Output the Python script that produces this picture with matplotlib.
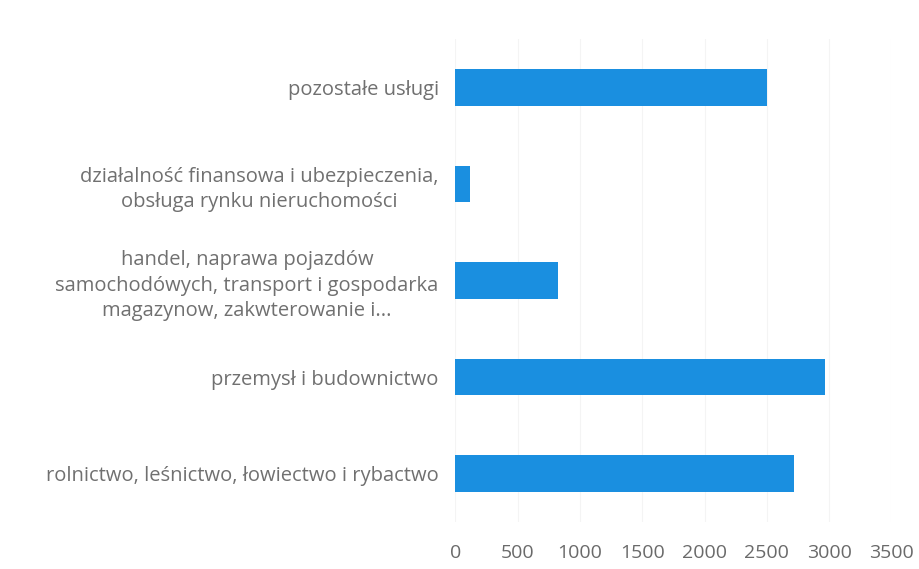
from matplotlib import pyplot as plt

# categories from bottom to top
categories = [
    "rolnictwo, leśnictwo, łowiectwo i rybactwo",
    "przemysł i budownictwo",
    "handel, naprawa pojazdów\nsamochodówych, transport i gospodarka\nmagazynow, zakwterowanie i...",
    "działalność finansowa i ubezpieczenia,\nobsługa rynku nieruchomości",
    "pozostałe usługi",
]
values = [2720, 2970, 820, 120, 2500]
xticks = [0, 500, 1000, 1500, 2000, 2500, 3000, 3500]

plt.rcParams['font.family'] = ['Open Sans', 'DejaVu Sans']

fig = plt.figure(figsize=(9.2, 5.69), dpi=100)
ax = fig.add_axes([0.495, 0.083, 0.474, 0.848])

ys = [i for i, _ in enumerate(categories)]
ax.barh(ys, values, height=0.38, color='#1a8fe0')

ax.set_xlim(0, 3500)
ax.set_ylim(-0.5, 4.5)
ax.set_xticks(xticks)
ax.set_xticklabels([str(x) for x in xticks], fontsize=14, color='#6a6a6a')
ax.set_yticks(ys)
ax.set_yticklabels(categories, fontsize=14.5, color='#707070',
                   multialignment='center', linespacing=1.35)
ax.tick_params(axis='x', length=0, pad=16)
ax.tick_params(axis='y', length=0, pad=12)

# faint gridlines
ax.grid(axis='x', color='#f4f4f4', linewidth=0.8)
ax.set_axisbelow(True)
for s in ax.spines.values():
    s.set_visible(False)

fig.savefig('out.png', dpi=100, facecolor='white')
